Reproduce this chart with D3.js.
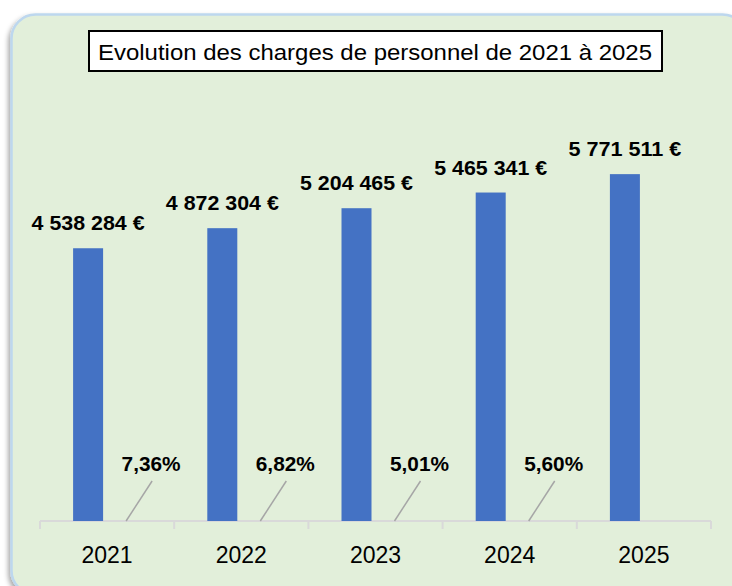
<!DOCTYPE html>
<html>
<head>
<meta charset="utf-8">
<script src="https://cdn.jsdelivr.net/npm/d3@7/dist/d3.min.js"></script>
<style>
html,body{margin:0;padding:0;background:#fff;}
svg{display:block;}
text{font-family:"Liberation Sans",Arial,sans-serif;}
</style>
</head>
<body>
<div id="chart"></div>
<script>
const titleText = "Evolution des charges de personnel de 2021 à 2025";
const years = ["2021", "2022", "2023", "2024", "2025"];
const charges = [4538284, 4872304, 5204465, 5465341, 5771511];
const growthYears = ["2021", "2022", "2023", "2024"];
const growth = [7.36, 6.82, 5.01, 5.60];
const series = ["charges", "evolution"];

const W = 732, H = 586;
const svg = d3.select("#chart").append("svg").attr("width", W).attr("height", H);

const defs = svg.append("defs");
const f = defs.append("filter").attr("id", "shadow").attr("x", "-10%").attr("y", "-10%").attr("width", "120%").attr("height", "120%");
f.append("feDropShadow").attr("dx", -2).attr("dy", 3).attr("stdDeviation", 2.5)
  .attr("flood-color", "#000").attr("flood-opacity", 0.35);

// panel
svg.append("rect")
  .attr("x", 11.5).attr("y", 14.5).attr("width", 735).attr("height", 580)
  .attr("rx", 24).attr("ry", 24)
  .attr("fill", "#E2EFDA").attr("stroke", "#BDD7EE").attr("stroke-width", 2.5)
  .attr("filter", "url(#shadow)");

// title
const tg = svg.append("g");
tg.append("rect").attr("x", 89).attr("y", 31).attr("width", 573).attr("height", 40)
  .attr("fill", "#fff").attr("stroke", "#000").attr("stroke-width", 2);
tg.append("text").attr("x", 98).attr("y", 59.5)
  .attr("font-size", 22).attr("fill", "#000")
  .attr("textLength", 554).attr("lengthAdjust", "spacingAndGlyphs")
  .text(titleText);

// scales
const x = d3.scaleBand().domain(years).range([40, 711]);
const xs = d3.scaleBand().domain(series)
  .range([x.bandwidth() / 2 - 34, x.bandwidth() / 2 + 34])
  .paddingInner(8 / 38);
const y = d3.scaleLinear().domain([0, 6000000]).range([521, 160.4]);

// axis
const axis = d3.axisBottom(x).tickSize(0).tickPadding(0).tickFormat(() => "");
const ag = svg.append("g").attr("transform", `translate(0,${y(0)})`).call(axis);
ag.select(".domain").attr("stroke", "#D9D9D9").attr("stroke-width", 2).attr("d", `M40,0H711`);
ag.selectAll(".tick").remove();
const edges = years.map(d => x(d)).concat([x(years[years.length - 1]) + x.bandwidth()]);
ag.selectAll("line.sep").data(edges).enter().append("line")
  .attr("class", "sep")
  .attr("x1", d => d).attr("x2", d => d).attr("y1", 0).attr("y2", 8)
  .attr("stroke", "#D9D9D9").attr("stroke-width", 2);
svg.append("g").selectAll("text").data(years).enter().append("text")
  .attr("x", d => x(d) + x.bandwidth() / 2).attr("y", 563)
  .attr("text-anchor", "middle").attr("font-size", 23).attr("fill", "#000")
  .text(d => d);

// bars
const bars = years.map((yr, i) => ({ yr, v: charges[i] }));
svg.append("g").selectAll("rect").data(bars).enter().append("rect")
  .attr("x", d => x(d.yr) + xs("charges"))
  .attr("width", xs.bandwidth())
  .attr("y", d => y(d.v))
  .attr("height", d => y(0) - y(d.v))
  .attr("fill", "#4472C4");

const fmtNum = v => String(v).replace(/\B(?=(\d{3})+(?!\d))/g, " ") + " €";
svg.append("g").selectAll("text").data(bars).enter().append("text")
  .attr("x", d => x(d.yr) + xs("charges") + xs.bandwidth() / 2)
  .attr("y", d => y(d.v) - 18)
  .attr("text-anchor", "middle").attr("font-size", 21).attr("font-weight", "bold").attr("fill", "#000")
  .attr("textLength", 113).attr("lengthAdjust", "spacingAndGlyphs")
  .text(d => fmtNum(d.v));

// growth labels (zero-height second series with leader lines)
const gr = growthYears.map((yr, i) => ({ yr, v: growth[i] }));
const gx = d => x(d.yr) + xs("evolution") + xs.bandwidth() / 2;
svg.append("g").selectAll("line").data(gr).enter().append("line")
  .attr("x1", d => gx(d)).attr("y1", y(0))
  .attr("x2", d => gx(d) + 26).attr("y2", y(0) - 40)
  .attr("stroke", "#A6A6A6").attr("stroke-width", 1.5);
svg.append("g").selectAll("text").data(gr).enter().append("text")
  .attr("x", d => gx(d) + 25).attr("y", 471)
  .attr("text-anchor", "middle").attr("font-size", 21).attr("font-weight", "bold").attr("fill", "#000")
  .attr("textLength", 59).attr("lengthAdjust", "spacingAndGlyphs")
  .text(d => d.v.toFixed(2).replace(".", ",") + "%");
</script>
</body>
</html>
